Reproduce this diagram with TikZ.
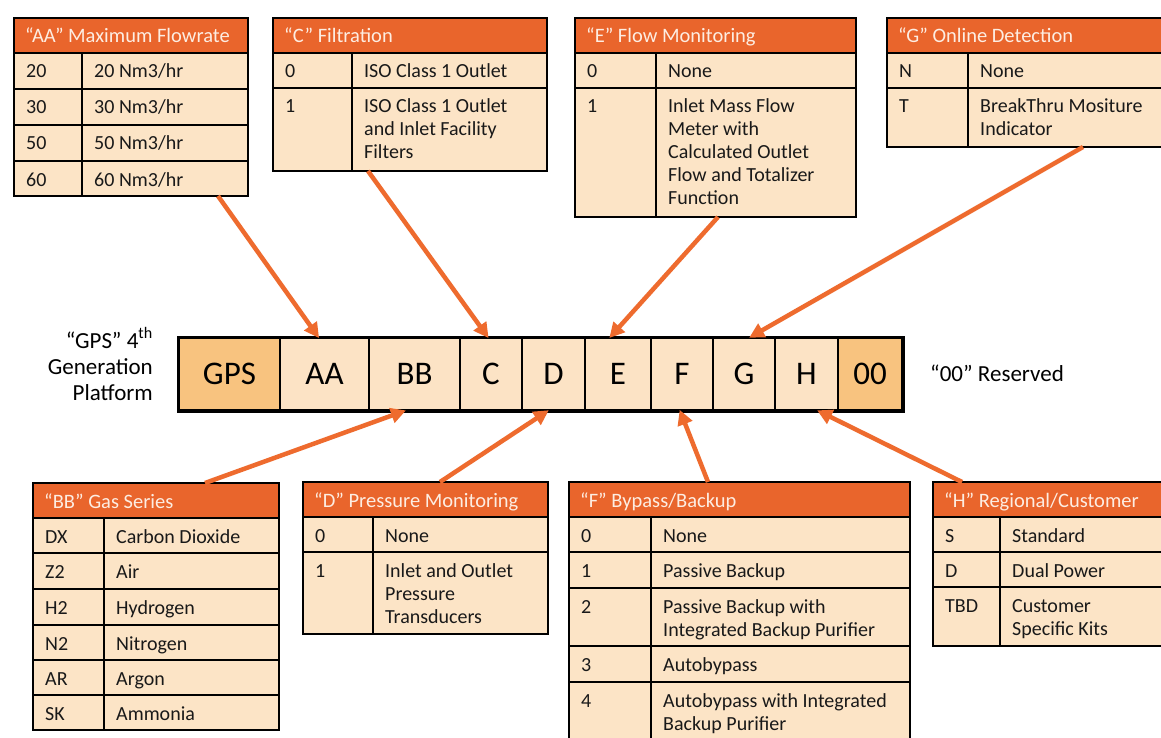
\documentclass[tikz,border=0pt]{standalone}
\usepackage{fontspec}
\setmainfont{Carlito}
\usetikzlibrary{arrows.meta,calc}
\definecolor{thead}{HTML}{E9652C}
\definecolor{tbody}{HTML}{FCE4C6}
\definecolor{barlight}{HTML}{FCE3C5}
\definecolor{bardark}{HTML}{F8C37F}
\definecolor{arrowc}{HTML}{EE6B2E}
\definecolor{htxt}{HTML}{FDEDE2}
\tikzset{
  tline/.style={draw=black, line width=1.5pt},
  tframe/.style={draw=black, line width=1.8pt, inner sep=0pt, outer sep=0pt, rectangle},
  htext/.style={anchor=base west, inner sep=0pt, text=htxt, font=\fontsize{20.5}{23}\selectfont},
  ctext/.style={anchor=base west, inner sep=0pt, text=black!90, font=\fontsize{20}{23}\selectfont},
  barcell/.style={draw=black, line width=1.5pt, inner sep=0pt, minimum height=72pt, font=\fontsize{33}{38}\selectfont},
  lbl/.style={inner sep=0pt, font=\fontsize{23}{26}\selectfont},
  conn/.style={draw=arrowc, line width=4.5pt, -{Triangle[length=15pt,width=15pt]}, shorten >=-1pt},
}
\newcommand\mktable[7]{%
  \fill[tbody] (#2,#3) rectangle (#4,#5);
  \fill[thead] (#2,#3) rectangle (#4,#3+35);
  \draw[tline] (#6,#3+35) -- (#6,#5);
  \draw[tline] (#2,#3+35) -- (#4,#3+35);
  \node[tframe, minimum width={#4-#2}, minimum height={#5-#3}] (#1) at ({(#2+#4)/2},{(#3+#5)/2}) {};
  \node[htext] at (#2+11,#3+25) {#7};
}
\newcommand\mkrow[6]{%
  \draw[tline] (#1,#4) -- (#2,#4);
  \node[ctext] at (#1+12,#4+25) {#5};
  \node[ctext] at (#3+12,#4+25) {\begin{tabular}[t]{@{}l@{}}#6\end{tabular}};
}
\begin{document}
\begin{tikzpicture}[x=1pt,y=-1pt]
\useasboundingbox (0,0) rectangle (1161,738);
\fill[white] (0,0) rectangle (1161,738);
\clip (0,0) rectangle (1161,738);

% ---- top tables
\mktable{tAA}{14}{18}{248}{196}{82}{“AA” Maximum Flowrate}
\mkrow{14}{248}{82}{53}{20}{20 Nm3/hr}
\mkrow{14}{248}{82}{89}{30}{30 Nm3/hr}
\mkrow{14}{248}{82}{125}{50}{50 Nm3/hr}
\mkrow{14}{248}{82}{161}{60}{60 Nm3/hr}

\mktable{tC}{273}{18}{547}{171}{352}{“C” Filtration}
\mkrow{273}{547}{352}{53}{0}{ISO Class 1 Outlet}
\mkrow{273}{547}{352}{88}{1}{ISO Class 1 Outlet\\and Inlet Facility\\Filters}

\mktable{tE}{575}{18}{856}{217}{656}{“E” Flow Monitoring}
\mkrow{575}{856}{656}{53}{0}{None}
\mkrow{575}{856}{656}{88}{1}{Inlet Mass Flow\\Meter with\\Calculated Outlet\\Flow and Totalizer\\Function}

\mktable{tG}{887}{18}{1162}{147}{968}{“G” Online Detection}
\mkrow{887}{1162}{968}{53}{N}{None}
\mkrow{887}{1162}{968}{88}{T}{BreakThru Mositure\\Indicator}

% ---- bottom tables
\mktable{tBB}{33}{483}{279}{730}{104}{“BB” Gas Series}
\mkrow{33}{279}{104}{518}{DX}{Carbon Dioxide}
\mkrow{33}{279}{104}{553}{Z2}{Air}
\mkrow{33}{279}{104}{589}{H2}{Hydrogen}
\mkrow{33}{279}{104}{625}{N2}{Nitrogen}
\mkrow{33}{279}{104}{660}{AR}{Argon}
\mkrow{33}{279}{104}{695}{SK}{Ammonia}

\mktable{tD}{303}{482}{548}{634}{373}{“D” Pressure Monitoring}
\mkrow{303}{548}{373}{517}{0}{None}
\mkrow{303}{548}{373}{552}{1}{Inlet and Outlet\\Pressure\\Transducers}

\mktable{tF}{569}{482}{910}{742}{651}{“F” Bypass/Backup}
\mkrow{569}{910}{651}{517}{0}{None}
\mkrow{569}{910}{651}{552}{1}{Passive Backup}
\mkrow{569}{910}{651}{588}{2}{Passive Backup with\\Integrated Backup Purifier}
\mkrow{569}{910}{651}{646}{3}{Autobypass}
\mkrow{569}{910}{651}{682}{4}{Autobypass with Integrated\\Backup Purifier}

\mktable{tH}{933}{482}{1164}{646}{1000}{“H” Regional/Customer}
\mkrow{933}{1164}{1000}{517}{S}{Standard}
\mkrow{933}{1164}{1000}{552}{D}{Dual Power}
\mkrow{933}{1164}{1000}{587}{TBD}{Customer\\Specific Kits}

% ---- code bar
\node[barcell, fill=bardark,  minimum width=101pt] (cGPS) at (229.5,374) {GPS};
\node[barcell, fill=barlight, minimum width=89pt]  (cAA)  at (324.5,374) {AA};
\node[barcell, fill=barlight, minimum width=91pt]  (cBB)  at (414.5,374) {BB};
\node[barcell, fill=barlight, minimum width=62pt]  (cC)   at (491,374) {C};
\node[barcell, fill=barlight, minimum width=63pt]  (cD)   at (553.5,374) {D};
\node[barcell, fill=barlight, minimum width=66pt]  (cE)   at (618,374) {E};
\node[barcell, fill=barlight, minimum width=62pt]  (cF)   at (682,374) {F};
\node[barcell, fill=barlight, minimum width=62pt]  (cG)   at (744,374) {G};
\node[barcell, fill=barlight, minimum width=63pt]  (cH)   at (806.5,374) {H};
\node[barcell, fill=bardark,  minimum width=64pt]  (c00)  at (870,374) {00};
\draw[line width=3.5pt] (cGPS.north west) rectangle (c00.south east);

\node[lbl, anchor=base east] (lgps) at (153,348) {\begin{tabular}[t]{@{}r@{}}“GPS” 4\textsuperscript{th}\\Generation\\Platform\end{tabular}};
\node[lbl, anchor=base west] (lres) at (930,381) {“00” Reserved};

% ---- connectors
\draw[conn] ($(tAA.south west)+(204,0)$) -- ($(cAA.north)+(-6,0)$);
\draw[conn] ($(tC.south west)+(95,0)$) -- ($(cC.north)+(-3,0)$);
\draw[conn] ($(tE.south west)+(143,0)$) -- ($(cE.north)+(-8,0)$);
\draw[conn] ($(tG.south west)+(196,0)$) -- ($(cG.north)+(6,0)$);
\draw[conn] ($(tBB.north west)+(172,0)$) -- ($(cBB.south)+(-9.5,0)$);
\draw[conn] ($(tD.north west)+(137,0)$) -- ($(cD.south)+(-5.5,0)$);
\draw[conn] ($(tF.north west)+(139,0)$) -- ($(cF.south)+(-2,0)$);
\draw[conn] ($(tH.north west)+(29,0)$) -- ($(cH.south)+(11.5,0)$);
\end{tikzpicture}
\end{document}
